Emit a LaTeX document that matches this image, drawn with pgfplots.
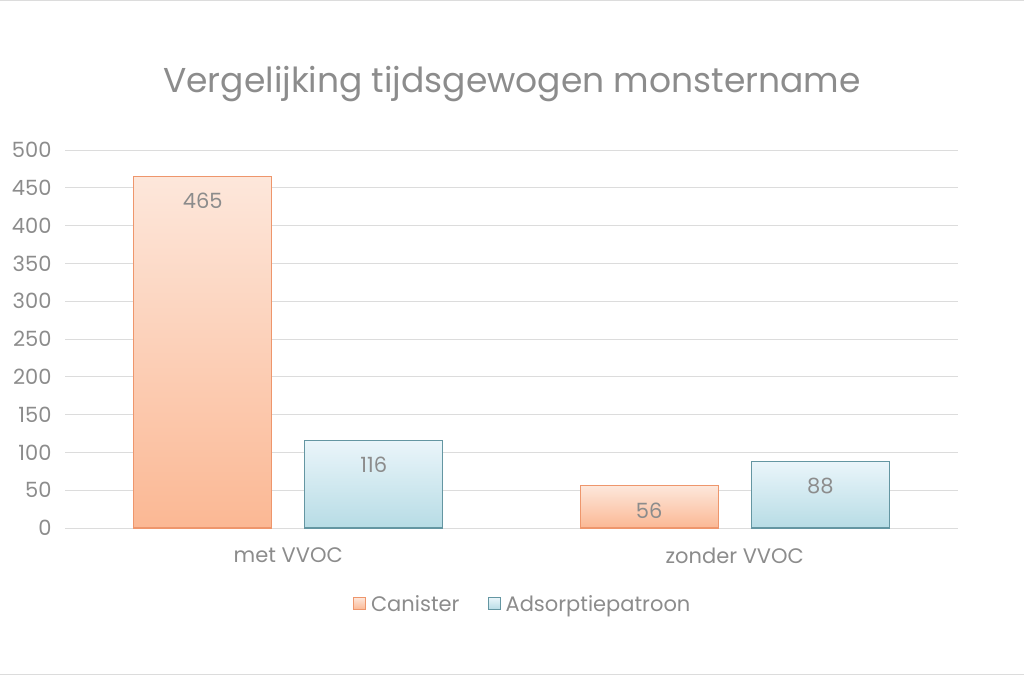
\documentclass[border=0pt]{standalone}
\usepackage{fontspec}
\setmainfont{Poppins}
\usepackage{pgfplots}
\pgfplotsset{compat=1.18}

\definecolor{txt}{RGB}{140,140,140}
\definecolor{gridc}{RGB}{220,220,220}
\definecolor{orTop}{RGB}{253,231,219}
\definecolor{orBot}{RGB}{251,184,148}
\definecolor{orLine}{RGB}{238,150,108}
\definecolor{blTop}{RGB}{234,245,250}
\definecolor{blBot}{RGB}{183,220,229}
\definecolor{blLine}{RGB}{100,150,162}

\begin{document}
\begin{tikzpicture}[x=1pt,y=1pt]
\path[use as bounding box] (0,0) rectangle (1024,675);
\draw[gridc] (0,674.5) -- (1024,674.5);
\draw[gridc] (0,0.5) -- (1024,0.5);

\node[txt, font=\fontsize{34.5}{38}\selectfont] at (512,591) {Vergelijking tijdsgewogen monstername};

\begin{axis}[
    at={(65pt,147pt)}, anchor=south west,
    scale only axis,
    width=893pt, height=378pt,
    ybar, bar width=138pt,
    xmin=-0.5, xmax=1.5,
    ymin=0, ymax=500,
    xtick={0,1},
    xticklabels={met VVOC, zonder VVOC},
    ytick={0,50,...,500},
    ymajorgrids,
    grid style={gridc, line width=0.8pt},
    axis line style={draw=none},
    tick style={draw=none},
    /pgf/number format/assume math mode=true,
    yticklabel style={txt, font=\fontsize{21}{23}\selectfont, xshift=-10pt},
    xticklabel style={txt, font=\fontsize{21}{23}\selectfont, yshift=-12pt},
    nodes near coords,
    every node near coord/.append style={txt, font=\fontsize{21}{23}\selectfont, anchor=north, yshift=-13pt},
    legend style={at={(0.5125,-0.201)}, anchor=center, draw=none, fill=none,
        font=\fontsize{21}{23}\selectfont, text=txt, legend columns=2,
        /tikz/every odd column/.append style={column sep=3pt},
        /tikz/every even column/.append style={column sep=26pt}},
    legend image code/.code={\draw[#1] (0pt,-5.5pt) rectangle (12pt,6.5pt);},
    orbar/.style={draw=orLine, line width=1.1pt, top color=orTop, bottom color=orBot, bar shift=-85.5pt},
    blbar/.style={draw=blLine, line width=1.1pt, top color=blTop, bottom color=blBot, bar shift=85.5pt},
]
\addplot[orbar] coordinates {(0,465)};
\addlegendentry{Canister}
\addplot[blbar] coordinates {(0,116)};
\addlegendentry{Adsorptiepatroon}
\addplot[orbar, forget plot] coordinates {(1,56)};
\addplot[blbar, forget plot] coordinates {(1,88)};
\end{axis}
\end{tikzpicture}
\end{document}
